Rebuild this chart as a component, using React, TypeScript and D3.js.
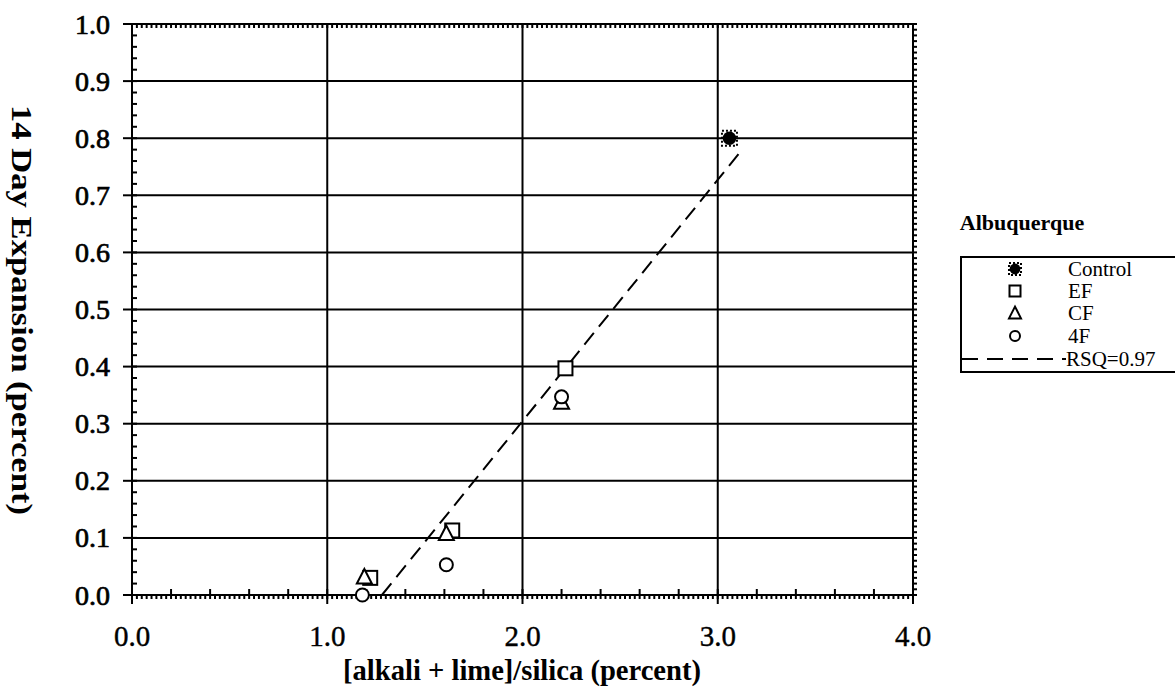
import React from "react";
import * as d3 from "d3";

const xTicks = [0, 1, 2, 3, 4];
const yTicks = [0, 0.1, 0.2, 0.3, 0.4, 0.5, 0.6, 0.7, 0.8, 0.9, 1.0];
const xGrid = [1, 2, 3];

const controlX = [3.06];
const controlY = [0.8];
const efX = [1.22, 1.64, 2.22];
const efY = [0.03, 0.113, 0.397];
const cfX = [1.19, 1.61, 2.2];
const cfY = [0.032, 0.108, 0.338];
const f4X = [1.18, 1.61, 2.2];
const f4Y = [0.0, 0.053, 0.347];
const trendX = [1.28, 3.12];
const trendY = [0.0, 0.778];

const legendTitle = "Albuquerque";
const legendLabels = ["Control", "EF", "CF", "4F", "RSQ=0.97"];
const xTitle = "[alkali + lime]/silica (percent)";
const yTitle = "14 Day Expansion (percent)";

const L = 132, R = 913, T = 24, B = 595;
const x = d3.scaleLinear().domain([0, 4]).range([L, R]);
const y = d3.scaleLinear().domain([0, 1]).range([B, T]);

const FONT = "'Liberation Serif', 'Times New Roman', serif";

function Square({ cx, cy, s }: { cx: number; cy: number; s: number }) {
  return <rect x={cx - s / 2} y={cy - s / 2} width={s} height={s} fill="white" stroke="black" strokeWidth={2} />;
}
function Tri({ cx, cy, s }: { cx: number; cy: number; s: number }) {
  const h = s * 0.9;
  const pts = `${cx},${cy - h / 2 - 1} ${cx - s / 2},${cy + h / 2} ${cx + s / 2},${cy + h / 2}`;
  return <polygon points={pts} fill="white" stroke="black" strokeWidth={2} strokeLinejoin="miter" />;
}
function Circ({ cx, cy, r }: { cx: number; cy: number; r: number }) {
  return <circle cx={cx} cy={cy} r={r} fill="white" stroke="black" strokeWidth={2} />;
}
function Ctrl({ cx, cy, s }: { cx: number; cy: number; s: number }) {
  return (
    <g>
      <circle cx={cx} cy={cy} r={s * 0.45} fill="black" />
      <rect x={cx - s / 2} y={cy - s / 2} width={s} height={s} fill="none" stroke="black" strokeWidth={2} strokeDasharray="2,2" />
    </g>
  );
}

export default function App() {
  const leftMinor = d3.range(0, 1.0001, 0.02);
  const rightMinor = d3.range(0, 1.0001, 0.01);
  const topMinor = d3.range(0, 4.0001, 0.025);
  const bottomMid = d3.range(0, 4.0001, 0.2);
  const line = d3.line<number>().x((d, i) => x(trendX[i])).y((d, i) => y(trendY[i]));
  const legendY = [269, 291, 313, 336, 359];
  const symX = 1015;
  const txtX = 1068;
  return (
    <svg width={1175} height={698} style={{ position: "absolute", left: 0, top: 0, background: "white" }}>
      <rect x={0} y={0} width={1175} height={698} fill="white" />
      {yTicks.slice(1, -1).map((t) => (
        <line key={"hg" + t} x1={L} x2={R} y1={y(t)} y2={y(t)} stroke="black" strokeWidth={2} />
      ))}
      {xGrid.map((t) => (
        <line key={"vg" + t} x1={x(t)} x2={x(t)} y1={T} y2={B} stroke="black" strokeWidth={2} />
      ))}
      {leftMinor.map((t, i) => (
        <line key={"lm" + i} x1={L} x2={L + 5} y1={y(t)} y2={y(t)} stroke="black" strokeWidth={2} />
      ))}
      {rightMinor.map((t, i) => (
        <line key={"rm" + i} x1={R} x2={R + 4} y1={y(t)} y2={y(t)} stroke="black" strokeWidth={2} />
      ))}
      {topMinor.map((t, i) => (
        <line key={"tm" + i} x1={x(t)} x2={x(t)} y1={T} y2={T + 4} stroke="black" strokeWidth={2} />
      ))}
      {topMinor.map((t, i) => (
        <line key={"bm" + i} x1={x(t)} x2={x(t)} y1={B} y2={B + 4} stroke="black" strokeWidth={2} />
      ))}
      {bottomMid.map((t, i) => (
        <line key={"bmid" + i} x1={x(t)} x2={x(t)} y1={B - 6} y2={B} stroke="black" strokeWidth={2} />
      ))}
      {yTicks.map((t) => (
        <line key={"ly" + t} x1={L - 9} x2={L} y1={y(t)} y2={y(t)} stroke="black" strokeWidth={2} />
      ))}
      {xTicks.map((t) => (
        <line key={"bx" + t} x1={x(t)} x2={x(t)} y1={B} y2={B + 9} stroke="black" strokeWidth={2} />
      ))}
      <rect x={L} y={T} width={R - L} height={B - T} fill="none" stroke="black" strokeWidth={2} />
      {yTicks.map((t) => (
        <text key={"yl" + t} x={L - 22} y={y(t)} dy="0.34em" textAnchor="end" fontFamily={FONT} fontSize={28} stroke="black" strokeWidth={0.7}>
          {t.toFixed(1)}
        </text>
      ))}
      {xTicks.map((t) => (
        <text key={"xl" + t} x={x(t)} y={646} textAnchor="middle" fontFamily={FONT} fontSize={29} stroke="black" strokeWidth={0.4}>
          {t.toFixed(1)}
        </text>
      ))}
      <text x={522} y={680} textAnchor="middle" fontFamily={FONT} fontSize={29} fontWeight="bold" textLength={358} lengthAdjust="spacingAndGlyphs">
        {xTitle}
      </text>
      <text transform="translate(12,310) rotate(90)" textAnchor="middle" fontFamily={FONT} fontSize={29} fontWeight="bold" textLength={410} lengthAdjust="spacingAndGlyphs">
        {yTitle}
      </text>
      <path d={line(trendX) || ""} fill="none" stroke="black" strokeWidth={2} strokeDasharray="15,8" />
      {efX.map((v, i) => (
        <Square key={"ef" + i} cx={x(v)} cy={y(efY[i])} s={14} />
      ))}
      {cfX.map((v, i) => (
        <Tri key={"cf" + i} cx={x(v)} cy={y(cfY[i])} s={15} />
      ))}
      {f4X.map((v, i) => (
        <Circ key={"f4" + i} cx={x(v)} cy={y(f4Y[i])} r={6.5} />
      ))}
      {controlX.map((v, i) => (
        <Ctrl key={"c" + i} cx={x(v)} cy={y(controlY[i])} s={15} />
      ))}
      <text x={1022} y={230} textAnchor="middle" fontFamily={FONT} fontSize={22} fontWeight="bold">
        {legendTitle}
      </text>
      <rect x={961} y={257} width={230} height={115} fill="white" stroke="black" strokeWidth={2} />
      <Ctrl cx={symX} cy={legendY[0]} s={12} />
      <Square cx={symX} cy={legendY[1]} s={11} />
      <Tri cx={symX} cy={legendY[2]} s={12} />
      <Circ cx={symX} cy={legendY[3]} r={5} />
      <line x1={962} x2={1066} y1={legendY[4]} y2={legendY[4]} stroke="black" strokeWidth={2} strokeDasharray="16,9" />
      {legendLabels.map((l, i) => (
        <text key={l} x={i === 4 ? 1066 : txtX} y={legendY[i]} dy="0.33em" fontFamily={FONT} fontSize={21}>
          {l}
        </text>
      ))}
    </svg>
  );
}
